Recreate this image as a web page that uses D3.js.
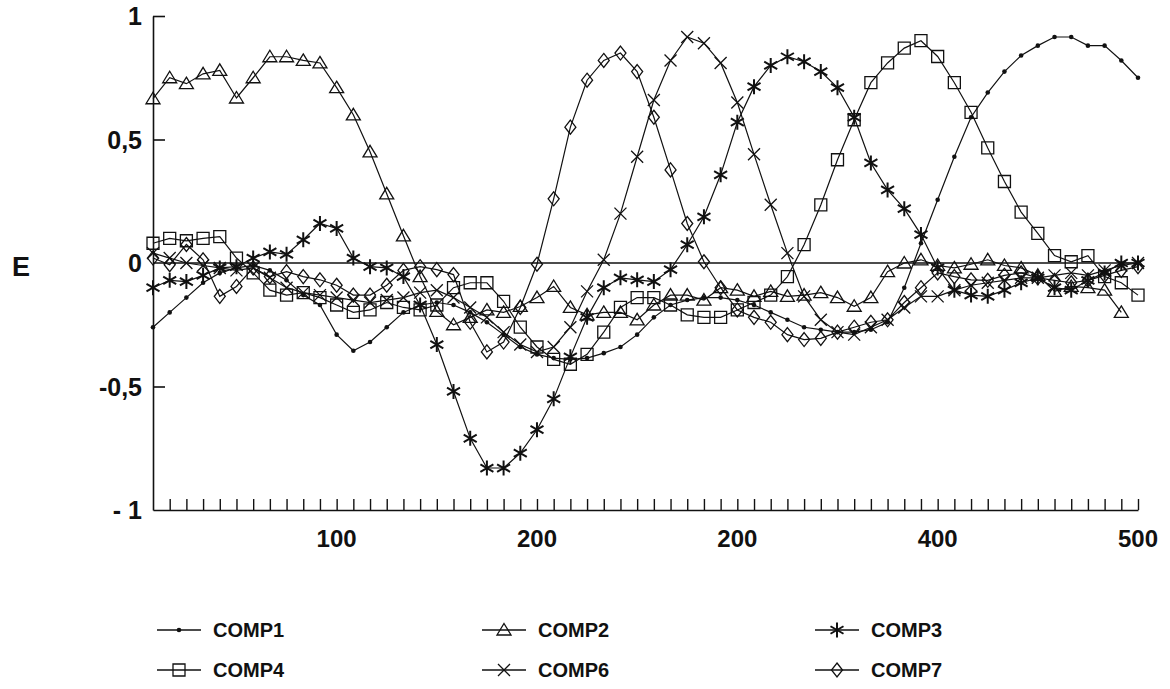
<!DOCTYPE html>
<html>
<head>
<meta charset="UTF-8">
<title>E</title>
<script src="https://cdn.jsdelivr.net/npm/d3@7"></script>
<style>
  body { margin: 0; background: #fff; }
  svg text { font-family: "Liberation Sans", Arial, sans-serif; font-weight: bold; fill: #111; }
</style>
</head>
<body>
<svg id="chart" width="1170" height="689"></svg>
<script>
// values, one per sample (60 samples)
var comp1 = [-0.26,-0.2,-0.14,-0.08,-0.04,-0.02,-0.01,-0.03,-0.07,-0.13,
             -0.17,-0.29,-0.355,-0.32,-0.26,-0.2,-0.17,-0.16,-0.17,-0.2,
             -0.24,-0.29,-0.34,-0.37,-0.385,-0.39,-0.385,-0.365,-0.34,-0.29,
             -0.22,-0.17,-0.15,-0.14,-0.14,-0.15,-0.17,-0.2,-0.23,-0.26,
             -0.27,-0.28,-0.28,-0.27,-0.24,-0.1,0.08,0.256,0.43,0.59,
             0.69,0.775,0.84,0.88,0.915,0.915,0.88,0.88,0.82,0.75];
var comp2 = [0.665,0.75,0.726,0.766,0.78,0.668,0.75,0.835,0.835,0.82,
             0.81,0.71,0.6,0.45,0.28,0.11,-0.055,-0.196,-0.25,-0.22,
             -0.19,-0.2,-0.176,-0.14,-0.095,-0.18,-0.21,-0.2,-0.2,-0.23,
             -0.17,-0.13,-0.13,-0.15,-0.1,-0.11,-0.135,-0.115,-0.135,-0.13,
             -0.12,-0.14,-0.175,-0.14,-0.035,0.0,0.013,-0.01,-0.02,-0.005,
             0.013,-0.01,-0.02,-0.05,-0.115,-0.095,-0.1,-0.11,-0.2,null];
var comp3 = [-0.1,-0.07,-0.075,-0.05,-0.02,-0.015,0.02,0.045,0.035,0.094,
             0.16,0.14,0.02,-0.015,-0.02,-0.055,-0.17,-0.33,-0.52,-0.71,
             -0.83,-0.83,-0.77,-0.675,-0.55,-0.38,-0.22,-0.1,-0.06,-0.068,
             -0.075,-0.027,0.074,0.187,0.357,0.57,0.714,0.8,0.835,0.815,
             0.775,0.71,0.59,0.405,0.296,0.22,0.115,-0.02,-0.11,-0.13,
             -0.135,-0.11,-0.08,-0.06,-0.1,-0.11,-0.07,-0.04,0.0,0.0];
var comp4 = [0.08,0.1,0.09,0.1,0.107,0.02,-0.04,-0.11,-0.13,-0.12,
             -0.14,-0.17,-0.2,-0.19,-0.16,-0.18,-0.19,-0.17,-0.1,-0.08,
             -0.08,-0.155,-0.26,-0.34,-0.39,-0.41,-0.37,-0.28,-0.18,-0.14,
             -0.14,-0.17,-0.21,-0.22,-0.22,-0.19,-0.16,-0.13,-0.055,0.074,
             0.235,0.418,0.58,0.73,0.81,0.87,0.9,0.836,0.73,0.61,
             0.466,0.33,0.206,0.12,0.03,0.005,0.03,-0.055,-0.08,-0.13];
var comp6 = [0.04,0.02,0.0,-0.01,-0.02,-0.03,-0.02,-0.06,-0.1,-0.12,
             -0.13,-0.14,-0.15,-0.16,-0.15,-0.14,-0.12,-0.11,-0.14,-0.18,
             -0.22,-0.28,-0.33,-0.36,-0.34,-0.26,-0.115,0.013,0.2,0.43,
             0.66,0.82,0.915,0.89,0.81,0.65,0.44,0.236,0.04,-0.135,
             -0.23,-0.28,-0.29,-0.26,-0.23,-0.18,-0.135,-0.135,-0.11,-0.09,
             -0.08,-0.07,-0.06,-0.06,-0.05,-0.04,-0.05,-0.03,-0.01,0.0];
var comp7 = [0.02,-0.007,0.075,0.013,-0.135,-0.095,-0.02,-0.055,-0.035,-0.055,
             -0.068,-0.09,-0.13,-0.13,-0.09,-0.03,-0.015,-0.027,-0.047,-0.24,
             -0.36,-0.32,-0.18,-0.005,0.26,0.55,0.74,0.82,0.85,0.775,
             0.59,0.377,0.16,0.005,-0.1,-0.19,-0.22,-0.24,-0.29,-0.31,
             -0.305,-0.28,-0.26,-0.24,-0.23,-0.16,-0.1,-0.04,-0.055,-0.068,
             -0.07,-0.05,-0.04,-0.06,-0.07,-0.08,-0.07,-0.05,-0.03,-0.015];

var seriesNames = ["COMP1","COMP2","COMP3","COMP4","COMP6","COMP7"];
var seriesMarkers = ["dot","triangle","asterisk","square","cross","diamond"];
var seriesValues = [comp1, comp2, comp3, comp4, comp6, comp7];

// x tick labels sit on sample numbers (as printed)
var xLabelIdx = [11, 23, 35, 47, 59];
var xLabels = ["100","200","200","400","500"];
var yTicks = [1, 0.5, 0, -0.5, -1];
var yLabels = ["1","0,5","0","-0,5","- 1"];

var svg = d3.select("#chart");
var x = d3.scaleLinear().domain([0, 59]).range([153, 1138]);
var y = d3.scaleLinear().domain([-1, 1]).range([510, 16]);

// y axis with short ticks pointing into the plot
svg.append("g")
    .attr("transform", "translate(" + x(0) + ",0)")
    .call(d3.axisRight(y).tickValues([1, 0.5, -0.5]).tickSizeInner(12).tickSizeOuter(0).tickFormat(""))
    .call(function(g){ g.selectAll("path,line").attr("stroke","#111").attr("stroke-width",1.6); });

// x axis: a tick at every sample, pointing up
svg.append("g")
    .attr("transform", "translate(0," + y(-1) + ")")
    .call(d3.axisBottom(x).tickValues(d3.range(1, 60)).tickSizeInner(-11).tickSizeOuter(0).tickFormat(""))
    .call(function(g){ g.selectAll("path,line").attr("stroke","#111").attr("stroke-width",1.4); });

// zero line
svg.append("line")
    .attr("x1", x(0)).attr("x2", x(59))
    .attr("y1", y(0)).attr("y2", y(0))
    .attr("stroke", "#111").attr("stroke-width", 1.6);

// tick labels
svg.selectAll("text.ylab")
    .data(yTicks)
    .enter().append("text")
    .attr("class", "ylab")
    .attr("x", 142)
    .attr("y", function(d){ return y(d) + 9; })
    .attr("text-anchor", "end")
    .attr("font-size", 25)
    .text(function(d, i){ return yLabels[i]; });

svg.selectAll("text.xlab")
    .data(xLabelIdx)
    .enter().append("text")
    .attr("class", "xlab")
    .attr("x", function(d){ return x(d); })
    .attr("y", 547)
    .attr("text-anchor", "middle")
    .attr("font-size", 24)
    .text(function(d, i){ return xLabels[i]; });

svg.append("text")
    .attr("x", 21).attr("y", y(0) + 13)
    .attr("text-anchor", "middle")
    .attr("font-size", 27)
    .text("E");

function markerPath(type) {
    switch (type) {
        case "triangle": return "M0,-6.5L7,5L-7,5Z";
        case "square": return "M-6,-6H6V6H-6Z";
        case "diamond": return "M0,-7L5.5,0L0,7L-5.5,0Z";
        case "cross": return "M-6,-6L6,6M6,-6L-6,6";
        case "asterisk": return "M0,-7.5V7.5M-6.5,-3.75L6.5,3.75M6.5,-3.75L-6.5,3.75";
    }
    return "";
}

function drawMarker(g, type) {
    if (type == "dot") {
        g.append("circle").attr("r", 2.3).attr("fill", "#111");
    } else {
        g.append("path").attr("d", markerPath(type))
            .attr("fill", "none").attr("stroke", "#111")
            .attr("stroke-width", type == "asterisk" ? 2 : 1.3);
    }
}

var line = d3.line()
    .defined(function(d){ return d != null; })
    .x(function(d, i){ return x(i); })
    .y(function(d){ return y(d); });

seriesValues.forEach(function(vals){
    svg.append("path")
        .attr("d", line(vals))
        .attr("fill", "none")
        .attr("stroke", "#111")
        .attr("stroke-width", 1.2);
});

seriesValues.forEach(function(vals, s){
    var pts = vals.map(function(v, i){ return {i: i, v: v}; })
                  .filter(function(p){ return p.v != null; });
    svg.selectAll("g.m" + s)
        .data(pts)
        .enter().append("g")
        .attr("class", "m" + s)
        .attr("transform", function(p){ return "translate(" + x(p.i) + "," + y(p.v) + ")"; })
        .each(function(){ drawMarker(d3.select(this), seriesMarkers[s]); });
});

// legend, 3 columns x 2 rows
var legCol = [157, 482, 815];
var legRow = [630, 670];
seriesNames.forEach(function(name, s){
    var lx = legCol[s % 3], ly = legRow[Math.floor(s / 3)];
    var g = svg.append("g").attr("transform", "translate(" + lx + "," + ly + ")");
    g.append("line").attr("x1", 0).attr("x2", 44).attr("y1", 0).attr("y2", 0)
        .attr("stroke", "#111").attr("stroke-width", 1.3);
    drawMarker(g.append("g").attr("transform", "translate(22,0)"), seriesMarkers[s]);
    g.append("text").attr("x", 56).attr("y", 7).attr("font-size", 20).text(name);
});
</script>
</body>
</html>
